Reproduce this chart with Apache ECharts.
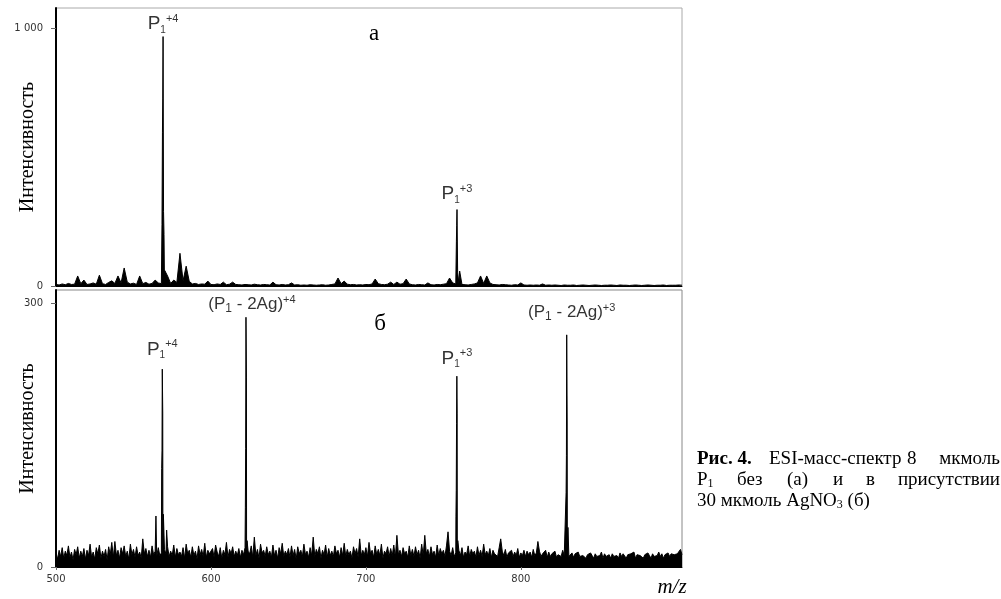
<!DOCTYPE html>
<html>
<head>
<meta charset="utf-8">
<script src="https://cdn.jsdelivr.net/npm/echarts@6.0.0/dist/echarts.min.js"></script>
<style>
  html, body { margin: 0; padding: 0; background: #fff; }
  #chart { width: 1001px; height: 599px; }
</style>
</head>
<body>
<div id="chart"></div>
<script>
// shared m/z axis
const mzMin = 500
const mzMax = 904
const mzTicks = [500, 600, 700, 800]

// (а) P1 alone: baseline read every 2 m/z from 500
const noiseStartA = 500
const noiseStepA = 2
const noiseA = [
  6, 4, 8, 5, 10, 6, 7, 39, 9, 23, 6, 8, 12, 7, 42, 9, 6, 14, 20, 10,
  39, 12, 70, 15, 8, 11, 6, 39, 9, 14, 7, 10, 23, 12, 9, 16, 39, 10, 23, 14,
  127, 20, 77, 18, 8, 10, 6, 8, 7, 19, 6, 5, 8, 6, 15, 5, 7, 15, 6, 5,
  4, 6, 5, 4, 7, 5, 4, 6, 5, 4, 15, 5, 4, 6, 4, 5, 12, 4, 5, 3,
  4, 3, 5, 4, 3, 4, 5, 3, 4, 6, 8, 31, 9, 19, 7, 5, 6, 4, 5, 4,
  6, 5, 8, 27, 9, 6, 5, 7, 15, 6, 15, 7, 9, 27, 8, 5, 4, 6, 5, 4,
  12, 5, 4, 6, 5, 7, 9, 31, 12, 8, 10, 6, 5, 4, 6, 8, 12, 39, 10, 39,
  12, 6, 5, 4, 6, 5, 4, 3, 5, 4, 12, 4, 3, 4, 3, 4, 3, 8, 3, 4,
  3, 4, 3, 2, 4, 3, 3, 4, 2, 3, 4, 3, 2, 3, 4, 3, 2, 3, 3, 4,
  3, 2, 4, 3, 3, 2, 3, 4, 3, 2, 3, 4, 3, 2, 3, 3, 4, 2, 3, 3,
  3, 4, 3
]
const peakMzA = [568.4, 568.7, 568.9, 569.1, 569.4, 569.7, 570.2, 758.4, 758.6, 758.8, 759.2, 760.5]
const peakIntA = [240, 595, 730, 969, 290, 200, 60, 174, 236, 297, 54, 58]
const labelMzA = [569.1, 758.8]
const labelIntA = [969, 297]
const labelTextA = ['{p|P}{s|1}{u|+4}', '{p|P}{s|1}{u|+3}']

// (б) P1 + AgNO3: baseline read every 1 m/z from 500
const noiseStartB = 500
const noiseStepB = 1
const noiseB = [
  16, 9, 19, 12, 22, 10, 18, 13, 24, 11, 17, 8, 20, 14, 23, 10, 18, 12, 21, 9,
  19, 13, 26, 11, 17, 9, 22, 15, 25, 10, 18, 12, 20, 8, 23, 14, 28, 11, 29, 13,
  19, 10, 22, 15, 24, 12, 18, 9, 26, 14, 20, 11, 23, 13, 17, 10, 32, 15, 21, 12,
  19, 11, 24, 14, 18, 12, 22, 13, 16, 11, 20, 15, 23, 12, 18, 13, 25, 11, 21, 14,
  17, 12, 22, 10, 26, 15, 19, 11, 23, 13, 18, 9, 24, 14, 20, 12, 27, 11, 19, 15,
  13, 21, 11, 25, 17, 12, 22, 10, 19, 14, 28, 11, 20, 15, 23, 12, 18, 13, 21, 11,
  19, 14, 22, 12, 18, 15, 24, 11, 34, 13, 20, 10, 26, 16, 19, 12, 23, 14, 18, 11,
  25, 13, 19, 10, 22, 15, 27, 12, 18, 14, 21, 11, 24, 13, 20, 9, 23, 15, 19, 12,
  26, 14, 18, 11, 22, 13, 34, 12, 20, 15, 23, 10, 19, 14, 25, 11, 21, 13, 18, 12,
  24, 15, 19, 11, 22, 13, 27, 12, 20, 14, 18, 10, 23, 15, 21, 11, 32, 13, 19, 14,
  22, 12, 28, 15, 19, 11, 24, 14, 20, 13, 26, 10, 18, 15, 23, 12, 21, 13, 25, 11,
  36, 14, 19, 12, 22, 15, 18, 11, 24, 13, 20, 12, 23, 14, 19, 10, 26, 13, 36, 15,
  20, 12, 23, 14, 18, 11, 25, 13, 21, 15, 19, 12, 24, 40, 18, 13, 22, 12, 16, 11,
  19, 13, 22, 11, 17, 14, 24, 12, 20, 15, 18, 11, 23, 13, 19, 12, 26, 14, 18, 13,
  21, 11, 19, 15, 17, 12, 22, 32, 18, 13, 20, 11, 16, 14, 19, 12, 17, 13, 21, 11,
  16, 13, 19, 12, 18, 14, 17, 11, 20, 13, 16, 29, 18, 12, 15, 13, 19, 11, 17, 12,
  15, 13, 18, 11, 14, 16, 12, 19, 13, 15, 18, 12, 14, 16, 11, 15, 13, 17, 12, 14,
  13, 15, 10, 14, 12, 16, 13, 10, 15, 12, 14, 13, 17, 10, 15, 12, 13, 14, 10, 15,
  12, 14, 13, 10, 16, 12, 15, 13, 10, 14, 12, 15, 13, 17, 10, 14, 12, 13, 15, 10,
  14, 12, 16, 13, 10, 15, 12, 14, 13, 17, 12, 15, 10, 14, 13, 16, 12, 15, 13, 14,
  12, 15, 13, 20, 14
]
const peakMzB = [564.5, 568.2, 568.4, 568.6, 568.9, 569.3, 571.4,
  622.2, 622.4, 622.6, 622.9, 623.3,
  758.1, 758.3, 758.5, 758.7, 758.9, 759.3,
  829.2, 829.4, 829.6, 829.9, 830.4]
const peakIntB = [58, 112, 132, 225, 175, 60, 42,
  68, 135, 284, 215, 30,
  57, 87, 163, 217, 175, 30,
  85, 127, 264, 166, 45]
const labelMzB = [568.6, 622.6, 758.7, 829.6]
const labelIntB = [225, 284, 217, 264]
const labelTextB = ['{p|P}{s|1}{u|+4}', '{t|(P}{s2|1}{t| - 2Ag)}{u|+4}', '{p|P}{s|1}{u|+3}', '{t|(P}{s2|1}{t| - 2Ag)}{u|+3}']

// label placement (px above the peak, px to the right)
const labelGapA = [1, 4]
const labelDxA = [0, 0]
const labelGapB = [8, 2, 6, 12]
const labelDxB = [0, 6, 0, 5]

function buildSpectrum(start, step, noise, pMz, pInt) {
  const pts = noise.map((v, i) => [start + step * i, v])
  for (let i = 0; i < pMz.length; i++) pts.push([pMz[i], pInt[i]])
  pts.sort((a, b) => a[0] - b[0])
  return pts
}

function buildLabels(mz, val, text, gap, dx) {
  return mz.map((m, i) => ({
    value: [m, val[i]],
    label: { formatter: text[i], distance: gap[i], offset: [dx[i], 0] }
  }))
}

const sans = 'Liberation Sans'
const serif = 'Liberation Serif'
const peakRich = {
  p: { fontFamily: sans, fontSize: 19, lineHeight: 22, color: '#000' },
  s: { fontFamily: sans, fontSize: 10, lineHeight: 10, verticalAlign: 'bottom', color: '#000' },
  u: { fontFamily: sans, fontSize: 11, lineHeight: 11, verticalAlign: 'top', color: '#000' },
  t: { fontFamily: sans, fontSize: 17, lineHeight: 20, color: '#000' },
  s2: { fontFamily: sans, fontSize: 12, lineHeight: 12, verticalAlign: 'bottom', color: '#000' }
}

const chart = echarts.init(document.getElementById('chart'), null, { renderer: 'canvas' })

const tickFont = { fontFamily: 'DejaVu Sans', fontSize: 10, color: '#333' }
function yAxisFor(gridIndex, max, ticks, fmt) {
  return {
    type: 'value', gridIndex: gridIndex, min: 0, max: max,
    name: 'Интенсивность', nameLocation: 'middle', nameRotate: 90, nameGap: 18,
    nameMoveOverlap: false,
    nameTextStyle: { fontFamily: serif, fontSize: 20, color: '#000' },
    axisLine: { show: true, lineStyle: { color: '#000', width: 2 } },
    axisTick: { show: true, length: 5, customValues: ticks, lineStyle: { color: '#666' } },
    axisLabel: Object.assign({ margin: 13, customValues: ticks, formatter: fmt }, tickFont),
    splitLine: { show: false }
  }
}

const option = {
  animation: false,
  backgroundColor: '#fff',
  grid: [
    { left: 56, right: 319, top: 8, height: 278, containLabel: false, outerBoundsMode: 'none', show: true, borderColor: '#aaa', borderWidth: 1 },
    { left: 56, right: 319, top: 290, height: 277, containLabel: false, outerBoundsMode: 'none', show: true, borderColor: '#888', borderWidth: 1 }
  ],
  xAxis: [
    {
      type: 'value', gridIndex: 0, min: mzMin, max: mzMax,
      axisLine: { lineStyle: { color: '#000', width: 1 } },
      axisTick: { show: false }, axisLabel: { show: false }, splitLine: { show: false }
    },
    {
      type: 'value', gridIndex: 1, min: mzMin, max: mzMax,
      axisLine: { lineStyle: { color: '#000', width: 1 } },
      axisTick: { show: true, length: 3, customValues: mzTicks, lineStyle: { color: '#666' } },
      axisLabel: Object.assign({ margin: 7, customValues: mzTicks }, tickFont),
      splitLine: { show: false }
    }
  ],
  yAxis: [
    yAxisFor(0, 1080, [0, 1000], v => v === 1000 ? '1 000' : String(v)),
    yAxisFor(1, 315, [0, 300], v => String(v))
  ],
  series: [
    {
      type: 'line', xAxisIndex: 0, yAxisIndex: 0, silent: true,
      showSymbol: false, lineStyle: { color: '#000', width: 1 },
      areaStyle: { color: '#000', opacity: 1 },
      data: buildSpectrum(noiseStartA, noiseStepA, noiseA, peakMzA, peakIntA)
    },
    {
      type: 'line', xAxisIndex: 1, yAxisIndex: 1, silent: true,
      showSymbol: false, lineStyle: { color: '#000', width: 1 },
      areaStyle: { color: '#000', opacity: 1 },
      data: buildSpectrum(noiseStartB, noiseStepB, noiseB, peakMzB, peakIntB)
    },
    {
      type: 'scatter', xAxisIndex: 0, yAxisIndex: 0, silent: true,
      symbolSize: 1, itemStyle: { color: 'rgba(0,0,0,0)' },
      label: { show: true, position: 'top', rich: peakRich },
      data: buildLabels(labelMzA, labelIntA, labelTextA, labelGapA, labelDxA)
    },
    {
      type: 'scatter', xAxisIndex: 1, yAxisIndex: 1, silent: true,
      symbolSize: 1, itemStyle: { color: 'rgba(0,0,0,0)' },
      label: { show: true, position: 'top', rich: peakRich },
      data: buildLabels(labelMzB, labelIntB, labelTextB, labelGapB, labelDxB)
    }
  ],
  graphic: [
    { type: 'text', x: 374, y: 34, style: { text: 'а', font: '23px "Liberation Serif"', fill: '#000', textAlign: 'center', textVerticalAlign: 'middle' } },
    { type: 'text', x: 380, y: 324, style: { text: 'б', font: '23px "Liberation Serif"', fill: '#000', textAlign: 'center', textVerticalAlign: 'middle' } },
    { type: 'text', x: 672, y: 587, style: { text: 'm/z', font: 'italic 21px "Liberation Serif"', fill: '#000', textAlign: 'center', textVerticalAlign: 'middle' } },
    // caption, justified by hand
    { type: 'text', x: 697, y: 459, style: { text: 'Рис. 4.', font: 'bold 19px "Liberation Serif"', fill: '#000', textVerticalAlign: 'middle' } },
    { type: 'text', x: 769, y: 459, style: { text: 'ESI-масс-спектр', font: '19px "Liberation Serif"', fill: '#000', textVerticalAlign: 'middle' } },
    { type: 'text', x: 907, y: 459, style: { text: '8', font: '19px "Liberation Serif"', fill: '#000', textVerticalAlign: 'middle' } },
    { type: 'text', x: 1000, y: 459, style: { text: 'мкмоль', font: '19px "Liberation Serif"', fill: '#000', textAlign: 'right', textVerticalAlign: 'middle' } },
    {
      type: 'text', x: 697, y: 480,
      style: {
        text: '{n|P}{s|1}', fill: '#000', textVerticalAlign: 'middle',
        rich: { n: { fontFamily: serif, fontSize: 19, lineHeight: 20 }, s: { fontFamily: serif, fontSize: 12, lineHeight: 12, verticalAlign: 'bottom' } }
      }
    },
    { type: 'text', x: 737, y: 480, style: { text: 'без', font: '19px "Liberation Serif"', fill: '#000', textVerticalAlign: 'middle' } },
    { type: 'text', x: 787, y: 480, style: { text: '(а)', font: '19px "Liberation Serif"', fill: '#000', textVerticalAlign: 'middle' } },
    { type: 'text', x: 833, y: 480, style: { text: 'и', font: '19px "Liberation Serif"', fill: '#000', textVerticalAlign: 'middle' } },
    { type: 'text', x: 866, y: 480, style: { text: 'в', font: '19px "Liberation Serif"', fill: '#000', textVerticalAlign: 'middle' } },
    { type: 'text', x: 1000, y: 480, style: { text: 'присутствии', font: '19px "Liberation Serif"', fill: '#000', textAlign: 'right', textVerticalAlign: 'middle' } },
    {
      type: 'text', x: 697, y: 501,
      style: {
        text: '{n|30 мкмоль AgNO}{s|3}{n| (б)}', fill: '#000', textVerticalAlign: 'middle',
        rich: { n: { fontFamily: serif, fontSize: 19, lineHeight: 20 }, s: { fontFamily: serif, fontSize: 12, lineHeight: 12, verticalAlign: 'bottom' } }
      }
    }
  ]
}

chart.setOption(option)
</script>
</body>
</html>
